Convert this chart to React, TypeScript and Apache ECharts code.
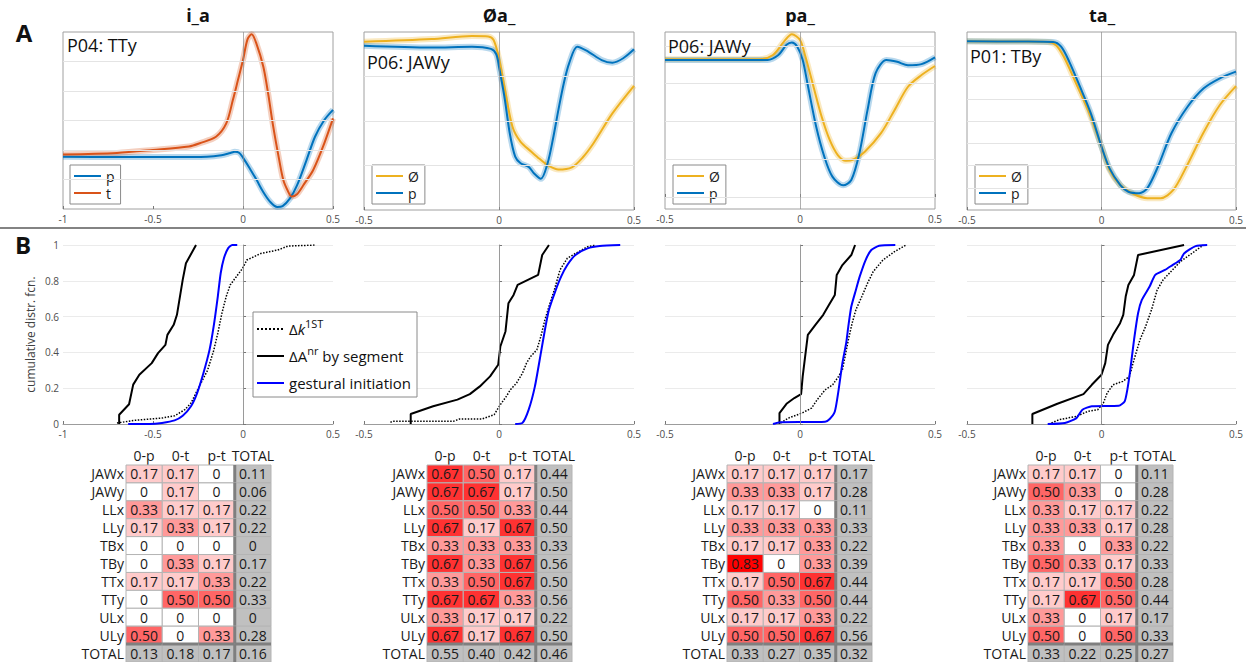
import React, { useEffect, useRef } from "react";
import * as echarts from "echarts";

const BLUE = "#0072BD";
const ORANGE = "#D95319";
const YELLOW = "#EDB120";
const FONT = "Open Sans";

// ---------- Panel A: trajectories [time (s), position (a.u.)] ----------
const a1P = [[-1, 1.77], [-0.7, 1.76], [-0.4, 1.76], [-0.2, 1.77], [-0.12, 1.82], [-0.07, 1.9], [-0.045, 1.94], [-0.02, 1.9], [0, 1.74], [0.04, 1.35], [0.076, 0.98], [0.11, 0.6], [0.15, 0.25], [0.19, 0.07], [0.22, 0.1], [0.26, 0.35], [0.3, 0.8], [0.353, 1.66], [0.4, 2.45], [0.45, 3.0], [0.5, 3.36]];
const a1T = [[-1, 1.85], [-0.7, 1.9], [-0.5, 2.0], [-0.3, 2.12], [-0.24, 2.23], [-0.15, 2.45], [-0.093, 2.9], [-0.056, 3.7], [-0.028, 4.37], [0, 5.05], [0.025, 5.75], [0.048, 5.92], [0.075, 5.6], [0.113, 4.82], [0.14, 3.9], [0.168, 2.79], [0.2, 1.7], [0.224, 0.98], [0.25, 0.6], [0.27, 0.42], [0.3, 0.5], [0.34, 0.85], [0.39, 1.32], [0.45, 2.2], [0.5, 3.07]];

const a2Null = [[-0.5, 3.78], [-0.25, 3.84], [-0.1, 3.91], [-0.04, 3.9], [-0.02, 3.82], [0, 3.41], [0.02, 2.77], [0.05, 1.87], [0.08, 1.53], [0.12, 1.31], [0.15, 1.15], [0.18, 1.01], [0.22, 0.91], [0.27, 0.96], [0.31, 1.18], [0.35, 1.5], [0.42, 2.17], [0.5, 2.79]];
const a2P = [[-0.5, 3.69], [-0.25, 3.65], [-0.1, 3.67], [-0.03, 3.62], [-0.01, 3.5], [0, 3.22], [0.02, 2.55], [0.04, 1.72], [0.06, 1.2], [0.08, 1.05], [0.11, 0.97], [0.13, 0.82], [0.155, 0.7], [0.18, 1.05], [0.2, 1.6], [0.22, 2.25], [0.24, 2.85], [0.26, 3.3], [0.29, 3.67], [0.33, 3.56], [0.38, 3.37], [0.42, 3.31], [0.46, 3.41], [0.5, 3.61]];

const a3Null = [[-0.5, 3.65], [-0.3, 3.65], [-0.15, 3.65], [-0.1, 3.76], [-0.06, 4.11], [-0.03, 4.31], [0, 4.16], [0.02, 3.72], [0.05, 2.92], [0.08, 2.13], [0.11, 1.51], [0.14, 1.11], [0.17, 0.96], [0.2, 1.0], [0.24, 1.2], [0.3, 1.69], [0.35, 2.3], [0.4, 2.92], [0.45, 3.23], [0.5, 3.47]];
const a3P = [[-0.5, 3.63], [-0.3, 3.63], [-0.12, 3.63], [-0.08, 3.76], [-0.05, 4.03], [-0.03, 4.09], [-0.01, 3.98], [0.01, 3.63], [0.03, 2.92], [0.06, 1.86], [0.09, 1.07], [0.12, 0.54], [0.16, 0.31], [0.19, 0.45], [0.22, 1.16], [0.25, 2.3], [0.28, 3.28], [0.32, 3.63], [0.36, 3.58], [0.4, 3.49], [0.45, 3.52], [0.5, 3.7]];

const a4Null = [[-0.5, 7.58], [-0.3, 7.57], [-0.2, 7.55], [-0.17, 7.42], [-0.14, 6.89], [-0.1, 5.84], [-0.05, 4.49], [0, 2.85], [0.03, 1.8], [0.07, 1.12], [0.12, 0.72], [0.17, 0.53], [0.22, 0.53], [0.267, 0.9], [0.316, 1.95], [0.378, 3.45], [0.44, 4.72], [0.5, 5.57]];
const a4P = [[-0.5, 7.58], [-0.3, 7.57], [-0.18, 7.55], [-0.15, 7.34], [-0.12, 6.67], [-0.08, 5.54], [-0.04, 4.35], [0, 2.85], [0.03, 1.87], [0.07, 1.12], [0.1, 0.82], [0.14, 0.75], [0.17, 0.97], [0.21, 1.95], [0.26, 3.45], [0.32, 4.64], [0.38, 5.47], [0.44, 5.92], [0.5, 6.22]];

// ---------- Panel B: cumulative distributions [lag (s), cdf] ----------
const b1Dk = [[-0.7, 0.005], [-0.61, 0.02], [-0.45, 0.033], [-0.38, 0.046], [-0.323, 0.08], [-0.289, 0.117], [-0.243, 0.21], [-0.197, 0.3], [-0.163, 0.41], [-0.14, 0.507], [-0.117, 0.619], [-0.094, 0.71], [-0.071, 0.777], [-0.037, 0.823], [-0.002, 0.87], [0.021, 0.916], [0.1, 0.953], [0.193, 0.972], [0.25, 0.994], [0.4, 1.0]];
const b1DA = [[-0.688, 0], [-0.688, 0.052], [-0.633, 0.11], [-0.61, 0.22], [-0.576, 0.275], [-0.507, 0.34], [-0.472, 0.396], [-0.431, 0.442], [-0.42, 0.498], [-0.385, 0.554], [-0.367, 0.61], [-0.335, 0.805], [-0.317, 0.898], [-0.261, 1.0]];
const b1Gi = [[-0.638, 0], [-0.518, 0], [-0.45, 0.006], [-0.38, 0.02], [-0.335, 0.046], [-0.289, 0.099], [-0.255, 0.173], [-0.22, 0.284], [-0.186, 0.414], [-0.163, 0.545], [-0.14, 0.712], [-0.124, 0.842], [-0.106, 0.926], [-0.083, 0.981], [-0.06, 1.0], [-0.032, 1.0]];

const b2Dk = [[-0.402, 0.009], [-0.395, 0.015], [-0.334, 0.015], [-0.169, 0.015], [-0.146, 0.028], [-0.063, 0.028], [-0.018, 0.052], [0.005, 0.108], [0.027, 0.154], [0.042, 0.191], [0.065, 0.229], [0.087, 0.284], [0.102, 0.34], [0.117, 0.377], [0.14, 0.414], [0.155, 0.489], [0.17, 0.582], [0.185, 0.656], [0.205, 0.749], [0.226, 0.861], [0.253, 0.926], [0.283, 0.953], [0.328, 0.99], [0.358, 1.0]];
const b2DA = [[-0.327, 0], [-0.327, 0.056], [-0.244, 0.099], [-0.154, 0.136], [-0.108, 0.167], [-0.071, 0.21], [-0.033, 0.266], [-0.003, 0.331], [0.005, 0.433], [0.024, 0.517], [0.035, 0.675], [0.054, 0.721], [0.069, 0.777], [0.145, 0.833], [0.16, 0.944], [0.185, 1.0]];
const b2Gi = [[0.06, 0], [0.087, 0.006], [0.11, 0.08], [0.133, 0.21], [0.155, 0.396], [0.17, 0.526], [0.185, 0.638], [0.208, 0.74], [0.23, 0.823], [0.253, 0.888], [0.283, 0.944], [0.328, 0.981], [0.373, 0.994], [0.449, 1.0]];

const b3Dk = [[-0.071, 0.006], [-0.043, 0.033], [0.007, 0.061], [0.043, 0.089], [0.064, 0.136], [0.093, 0.191], [0.121, 0.219], [0.143, 0.266], [0.157, 0.303], [0.167, 0.377], [0.179, 0.47], [0.193, 0.563], [0.207, 0.638], [0.229, 0.712], [0.25, 0.786], [0.271, 0.851], [0.307, 0.916], [0.35, 0.963], [0.393, 1.0]];
const b3DA = [[-0.076, 0], [-0.076, 0.061], [-0.05, 0.113], [-0.021, 0.145], [0.004, 0.167], [0.01, 0.266], [0.019, 0.377], [0.029, 0.498], [0.057, 0.554], [0.086, 0.61], [0.107, 0.665], [0.129, 0.721], [0.136, 0.833], [0.157, 0.888], [0.19, 0.944], [0.204, 1.0]];
const b3Gi = [[-0.1, 0], [-0.079, 0.009], [0.093, 0.013], [0.11, 0.028], [0.129, 0.07], [0.143, 0.191], [0.157, 0.34], [0.171, 0.452], [0.179, 0.545], [0.19, 0.656], [0.207, 0.749], [0.221, 0.823], [0.243, 0.916], [0.264, 0.972], [0.293, 0.996], [0.353, 1.0]];

const b4Dk = [[-0.186, 0.006], [-0.157, 0.024], [-0.093, 0.043], [-0.05, 0.071], [-0.014, 0.08], [0.007, 0.117], [0.021, 0.173], [0.043, 0.219], [0.079, 0.238], [0.104, 0.266], [0.121, 0.359], [0.143, 0.47], [0.164, 0.545], [0.186, 0.638], [0.207, 0.749], [0.229, 0.805], [0.264, 0.861], [0.293, 0.907], [0.336, 0.953], [0.379, 1.0]];
const b4DA = [[-0.257, 0], [-0.257, 0.056], [-0.164, 0.113], [-0.067, 0.167], [-0.036, 0.219], [0, 0.275], [0.014, 0.34], [0.024, 0.442], [0.043, 0.498], [0.069, 0.563], [0.081, 0.61], [0.09, 0.712], [0.1, 0.777], [0.121, 0.833], [0.136, 0.944], [0.307, 1.0]];
const b4Gi = [[-0.2, 0], [-0.136, 0.006], [-0.093, 0.033], [-0.071, 0.08], [-0.036, 0.099], [0.064, 0.102], [0.086, 0.126], [0.096, 0.191], [0.107, 0.303], [0.121, 0.47], [0.136, 0.619], [0.15, 0.693], [0.179, 0.768], [0.2, 0.833], [0.236, 0.861], [0.264, 0.888], [0.293, 0.916], [0.307, 0.953], [0.35, 0.994], [0.393, 1.0]];

// ---------- Tables ----------
const tableRows = ["JAWx", "JAWy", "LLx", "LLy", "TBx", "TBy", "TTx", "TTy", "ULx", "ULy", "TOTAL"];
const tableCols = ["0-p", "0-t", "p-t", "TOTAL"];
const t1Values = [[0.17, 0.17, 0, 0.11], [0, 0.17, 0, 0.06], [0.33, 0.17, 0.17, 0.22], [0.17, 0.33, 0.17, 0.22], [0, 0, 0, 0], [0, 0.33, 0.17, 0.17], [0.17, 0.17, 0.33, 0.22], [0, 0.5, 0.5, 0.33], [0, 0, 0, 0], [0.5, 0, 0.33, 0.28], [0.13, 0.18, 0.17, 0.16]];
const t2Values = [[0.67, 0.5, 0.17, 0.44], [0.67, 0.67, 0.17, 0.5], [0.5, 0.5, 0.33, 0.44], [0.67, 0.17, 0.67, 0.5], [0.33, 0.33, 0.33, 0.33], [0.67, 0.33, 0.67, 0.56], [0.33, 0.5, 0.67, 0.5], [0.67, 0.67, 0.33, 0.56], [0.33, 0.17, 0.17, 0.22], [0.67, 0.17, 0.67, 0.5], [0.55, 0.4, 0.42, 0.46]];
const t3Values = [[0.17, 0.17, 0.17, 0.17], [0.33, 0.33, 0.17, 0.28], [0.17, 0.17, 0, 0.11], [0.33, 0.33, 0.33, 0.33], [0.17, 0.17, 0.33, 0.22], [0.83, 0, 0.33, 0.39], [0.17, 0.5, 0.67, 0.44], [0.5, 0.33, 0.5, 0.44], [0.17, 0.17, 0.33, 0.22], [0.5, 0.5, 0.67, 0.56], [0.33, 0.27, 0.35, 0.32]];
const t4Values = [[0.17, 0.17, 0, 0.11], [0.5, 0.33, 0, 0.28], [0.33, 0.17, 0.17, 0.22], [0.33, 0.33, 0.17, 0.28], [0.33, 0, 0.33, 0.22], [0.5, 0.33, 0.17, 0.33], [0.17, 0.17, 0.5, 0.28], [0.17, 0.67, 0.5, 0.44], [0.33, 0, 0.17, 0.17], [0.5, 0, 0.5, 0.33], [0.33, 0.22, 0.25, 0.27]];

// ---------- Layout ----------
const aPanels = [
  { left: 63, height: 177, xMin: -1, yMin: 0, yMax: 6, gridVals: [1, 2, 3, 4, 5], title: "i_a", titleX: 198, note: "P04: TTy", noteX: 67, noteY: 45, legendNames: ["p", "t"], legendLeft: 70, lines: [{ name: "p", color: BLUE, data: a1P }, { name: "t", color: ORANGE, data: a1T }] },
  { left: 364, height: 178, xMin: -0.5, yMin: 0, yMax: 4, gridVals: [1, 2, 3], title: "Øa_", titleX: 499, note: "P06: JAWy", noteX: 367, noteY: 62, legendNames: ["Ø", "p"], legendLeft: 372, lines: [{ name: "Ø", color: YELLOW, data: a2Null }, { name: "p", color: BLUE, data: a2P }] },
  { left: 665, height: 177, xMin: -0.5, yMin: -0.318, yMax: 4.37, gridVals: [0, 1, 2, 3, 4], title: "pa_", titleX: 800, note: "P06: JAWy", noteX: 668, noteY: 46, legendNames: ["Ø", "p"], legendLeft: 673, lines: [{ name: "Ø", color: YELLOW, data: a3Null }, { name: "p", color: BLUE, data: a3P }] },
  { left: 967, height: 178, xMin: -0.5, yMin: 0, yMax: 8, gridVals: [1, 2, 3, 4, 5, 6], title: "ta_", titleX: 1102, note: "P01: TBy", noteX: 970, noteY: 56, legendNames: ["Ø", "p"], legendLeft: 975, lines: [{ name: "Ø", color: YELLOW, data: a4Null }, { name: "p", color: BLUE, data: a4P }] },
];

const DK = "Δk^1ST";
const DA = "ΔA^nr by segment";
const GI = "gestural initiation";

const bPanels = [
  { left: 63, xMin: -1, dk: b1Dk, da: b1DA, gi: b1Gi },
  { left: 364, xMin: -0.5, dk: b2Dk, da: b2DA, gi: b2Gi },
  { left: 665, xMin: -0.5, dk: b3Dk, da: b3DA, gi: b3Gi },
  { left: 967, xMin: -0.5, dk: b4Dk, da: b4DA, gi: b4Gi },
];

const tables = [
  { left: 126, values: t1Values },
  { left: 427, values: t2Values },
  { left: 727, values: t3Values },
  { left: 1028, values: t4Values },
];

function fmt(v: number) {
  return v === 0 ? "0" : v.toFixed(2);
}
function cellColor(v: number) {
  const g = Math.max(0, Math.round(255 * (1 - v * 1.2)));
  return `rgb(255,${g},${g})`;
}

function buildOption() {
  const grids: any[] = [];
  const xAxes: any[] = [];
  const yAxes: any[] = [];
  const series: any[] = [];
  const legends: any[] = [];
  const graphics: any[] = [];
  let gi = 0;

  aPanels.forEach((p) => {
    grids.push({ left: p.left, top: 32, width: 270, height: p.height, show: true, borderColor: "#a0a0a0", borderWidth: 1, backgroundColor: "rgba(0,0,0,0)" });
    xAxes.push({
      gridIndex: gi, type: "value", min: p.xMin, max: 0.5, interval: 0.5,
      axisLine: { show: false },
      axisTick: { show: true, inside: true, length: 3, lineStyle: { color: "#777" } },
      axisLabel: { fontSize: 10, color: "#4d4d4d", margin: 5, fontFamily: FONT },
      splitLine: { show: false },
    });
    yAxes.push({ gridIndex: gi, type: "value", min: p.yMin, max: p.yMax, axisLine: { show: false }, axisTick: { show: false }, axisLabel: { show: false }, splitLine: { show: false } });
    p.lines.forEach((ln, k) => {
      series.push({
        type: "line", name: ln.name + "-band-" + gi, xAxisIndex: gi, yAxisIndex: gi, data: ln.data,
        smooth: 0.3, symbol: "none", silent: true, z: 1,
        lineStyle: { color: ln.color, width: 6, opacity: 0.28 },
        markLine: k === 0 ? {
          silent: true, symbol: ["none", "none"], label: { show: false }, animation: false,
          lineStyle: { color: "#e4e4e4", width: 1, type: "solid", opacity: 1 },
          data: [...p.gridVals.map((v) => ({ yAxis: v })), { xAxis: 0, lineStyle: { color: "#8c8c8c", width: 0.7, type: "solid", opacity: 1 } }],
        } : undefined,
      });
    });
    p.lines.forEach((ln) => {
      series.push({
        type: "line", name: ln.name, xAxisIndex: gi, yAxisIndex: gi, data: ln.data,
        smooth: 0.3, symbol: "none", z: 3,
        lineStyle: { color: ln.color, width: 2 }, itemStyle: { color: ln.color },
      });
    });
    legends.push({
      data: p.legendNames, left: p.legendLeft, top: 165, orient: "vertical", selectedMode: false,
      itemWidth: 27, itemHeight: 10, itemGap: 1, padding: [3, 6, 3, 3],
      itemStyle: { opacity: 0 },
      backgroundColor: "#fff", borderColor: "#8a8a8a", borderWidth: 1, borderRadius: 0,
      textStyle: { fontSize: 14, lineHeight: 16, color: "#1a1a1a", fontFamily: FONT },
    });
    graphics.push({ type: "text", x: p.titleX, y: 15, style: { text: p.title, fontSize: 18, fontWeight: "bold", fontFamily: FONT, fill: "#111", align: "center", verticalAlign: "middle" } });
    graphics.push({ type: "text", x: p.noteX, y: p.noteY, z: 10, style: { text: p.note, fontSize: 18, fontFamily: FONT, fill: "#111", align: "left", verticalAlign: "middle" } });
    gi++;
  });

  bPanels.forEach((p, idx) => {
    grids.push({ left: p.left, top: 245, width: 270, height: 179 });
    xAxes.push({
      gridIndex: gi, type: "value", min: p.xMin, max: 0.5, interval: 0.5,
      axisLine: { show: true, lineStyle: { color: "#9c9c9c" } },
      axisTick: { show: true, inside: true, length: 3, lineStyle: { color: "#777" } },
      axisLabel: { fontSize: 10, color: "#4d4d4d", margin: 5, fontFamily: FONT },
      splitLine: { show: false },
    });
    yAxes.push({
      gridIndex: gi, type: "value", min: 0, max: 1, interval: 0.2,
      axisLine: { show: true, lineStyle: { color: "#9c9c9c" } },
      axisTick: { show: true, inside: true, length: 3, lineStyle: { color: "#777" } },
      axisLabel: { show: idx === 0, fontSize: 10, color: "#4d4d4d", margin: 4, fontFamily: FONT },
      splitLine: { show: true, lineStyle: { color: "#ebebeb" } },
      name: idx === 0 ? "cumulative distr. fcn." : "", nameLocation: "middle", nameGap: 27,
      nameTextStyle: { fontSize: 12, color: "#404040", fontFamily: FONT },
    });
    series.push({
      type: "line", name: DK, xAxisIndex: gi, yAxisIndex: gi, data: p.dk, symbol: "none", z: 3,
      lineStyle: { color: "#000", width: 1.5, type: "dotted" }, itemStyle: { color: "#000" },
      markLine: {
        silent: true, symbol: ["none", "none"], label: { show: false }, animation: false,
        lineStyle: { color: "#9a9a9a", width: 0.7, type: "solid" },
        data: [{ xAxis: 0 }],
      },
    });
    series.push({
      type: "line", name: DA, xAxisIndex: gi, yAxisIndex: gi, data: p.da, symbol: "none", z: 3,
      lineStyle: { color: "#000", width: 2 }, itemStyle: { color: "#000" },
    });
    series.push({
      type: "line", name: GI, xAxisIndex: gi, yAxisIndex: gi, data: p.gi, symbol: "none", z: 3, smooth: 0.2,
      lineStyle: { color: "#0000FF", width: 2 }, itemStyle: { color: "#0000FF" },
    });
    gi++;
  });

  legends.push({
    data: [DK, DA, GI], left: 253, top: 312, orient: "vertical", selectedMode: false, z: 20,
    itemWidth: 27, itemHeight: 12, itemGap: 5, padding: [6, 6, 3, 3],
    itemStyle: { opacity: 0 },
    backgroundColor: "#fff", borderColor: "#8a8a8a", borderWidth: 1,
    formatter: (name: string) => {
      if (name === DK) return "{n|Δ}{i|k}{s|1ST}";
      if (name === DA) return "{n|ΔA}{s|nr}{n| by segment}";
      return "{n|gestural initiation}";
    },
    textStyle: {
      fontFamily: FONT, color: "#111", fontSize: 15, lineHeight: 22,
      rich: {
        n: { fontSize: 15, lineHeight: 22, fontFamily: FONT, color: "#111" },
        i: { fontSize: 15, lineHeight: 22, fontStyle: "italic", fontFamily: FONT, color: "#111" },
        s: { fontSize: 11, lineHeight: 11, verticalAlign: "top", fontFamily: FONT, color: "#111" },
      },
    },
  });

  tables.forEach((t) => {
    grids.push({ left: t.left, top: 465, width: 145, height: 197 });
    xAxes.push({
      gridIndex: gi, type: "category", data: tableCols, position: "top",
      axisLine: { show: false }, axisTick: { show: false }, splitLine: { show: false },
      axisLabel: { fontSize: 14, color: "#1a1a1a", margin: 3, fontFamily: FONT, interval: 0 },
    });
    yAxes.push({
      gridIndex: gi, type: "category", data: tableRows, inverse: true,
      axisLine: { show: false }, axisTick: { show: false }, splitLine: { show: false },
      axisLabel: { fontSize: 14, color: "#1a1a1a", margin: 2, fontFamily: FONT, interval: 0 },
    });
    const cells: number[][] = [];
    t.values.forEach((row, r) => row.forEach((v, c) => cells.push([c, r, v])));
    series.push({
      type: "custom", xAxisIndex: gi, yAxisIndex: gi, data: cells, silent: true,
      encode: { x: 0, y: 1 },
      renderItem: (_params: any, api: any) => {
        const c = api.value(0);
        const r = api.value(1);
        const v = api.value(2);
        const pt = api.coord([c, r]);
        const sz = api.size([1, 1]);
        const x0 = pt[0] - sz[0] / 2;
        const y0 = pt[1] - sz[1] / 2;
        const isTotal = c === 3 || r === 10;
        const children: any[] = [
          { type: "rect", shape: { x: x0, y: y0, width: sz[0], height: sz[1] }, style: { fill: isTotal ? "#c0c0c0" : cellColor(v), stroke: "#b4b4b4", lineWidth: 1 } },
          { type: "text", style: { text: fmt(v), x: pt[0], y: pt[1], align: "center", verticalAlign: "middle", fontSize: 14, fontFamily: FONT, fill: "#1a1a1a" } },
        ];
        if (c === 3) children.push({ type: "line", shape: { x1: x0, y1: y0, x2: x0, y2: y0 + sz[1] }, style: { stroke: "#7f7f7f", lineWidth: 3 } });
        if (r === 10) children.push({ type: "line", shape: { x1: x0, y1: y0, x2: x0 + sz[0], y2: y0 }, style: { stroke: "#7f7f7f", lineWidth: 3 } });
        return { type: "group", children };
      },
    });
    gi++;
  });

  graphics.push({ type: "text", x: 24, y: 32, style: { text: "A", fontSize: 24, fontWeight: "bold", fontFamily: FONT, fill: "#111", align: "center", verticalAlign: "middle" } });
  graphics.push({ type: "text", x: 23, y: 244, style: { text: "B", fontSize: 24, fontWeight: "bold", fontFamily: FONT, fill: "#111", align: "center", verticalAlign: "middle" } });
  graphics.push({ type: "line", shape: { x1: 0, y1: 228, x2: 1246, y2: 228 }, style: { stroke: "#5a5a5a", lineWidth: 1.5 } });

  return {
    animation: false,
    backgroundColor: "#fff",
    textStyle: { fontFamily: FONT },
    grid: grids,
    xAxis: xAxes,
    yAxis: yAxes,
    legend: legends,
    series,
    graphic: graphics,
  };
}

export default function App() {
  const ref = useRef<HTMLDivElement>(null);
  useEffect(() => {
    if (!ref.current) return;
    const chart = echarts.init(ref.current, undefined, { renderer: "svg" });
    chart.setOption(buildOption() as any);
    return () => chart.dispose();
  }, []);
  return <div ref={ref} style={{ position: "fixed", left: 0, top: 0, width: 1246, height: 662, background: "#fff" }} />;
}
